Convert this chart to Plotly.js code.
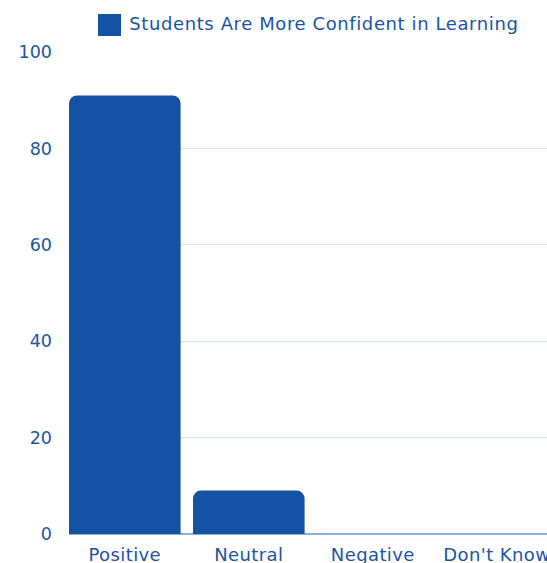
<!DOCTYPE html>
<html>
<head>
<meta charset="utf-8">
<script src="https://cdn.plot.ly/plotly-3.0.1.min.js"></script>
<style>
html,body{margin:0;padding:0;background:#fff;overflow:hidden}
#chart{width:547px;height:563px}
#chart .annotation-text{letter-spacing:0.6px}
#chart .xtick text{letter-spacing:0.4px}
</style>
</head>
<body>
<div id="chart"></div>
<script>
const categories = ["Positive", "Neutral", "Negative", "Don't Know"];
const values = [91, 9, 0, 0];
const seriesName = "Students Are More Confident in Learning";
const yTicks = [0, 20, 40, 60, 80, 100];

const blue = '#1453a3';
const textBlue = '#1a55a2';
const fontFam = '"DejaVu Sans", "Noto Sans", sans-serif';

const trace = {
  type: 'bar',
  x: categories,
  y: values,
  name: seriesName,
  marker: {color: blue, cornerradius: 8},
  showlegend: false,
  hoverinfo: 'x+y'
};

const layout = {
  width: 547, height: 563,
  margin: {l: 69, r: 0, t: 52, b: 29},
  paper_bgcolor: '#fff', plot_bgcolor: '#fff',
  bargap: 0.1,
  font: {family: fontFam, color: textBlue},
  xaxis: {
    type: 'category',
    range: [-0.45, 3.405],
    showgrid: false,
    showline: false,
    zeroline: false,
    ticks: '',
    tickfont: {size: 18, color: textBlue, family: fontFam},
    ticklabelstandoff: 8,
    fixedrange: true
  },
  yaxis: {
    range: [0, 100],
    tickvals: yTicks,
    ticktext: yTicks.map(String),
    gridcolor: '#dbe5f0',
    gridwidth: 1,
    zeroline: true,
    zerolinecolor: '#8eafda',
    zerolinewidth: 1.5,
    showline: false,
    ticks: '',
    ticklabelstandoff: 16,
    tickfont: {size: 17.5, color: textBlue, family: fontFam},
    fixedrange: true
  },
  showlegend: false,
  shapes: [{
    type: 'rect', xref: 'paper', yref: 'paper',
    x0: (98 - 69) / 478, x1: (121 - 69) / 478,
    y0: (534 - 36) / 482, y1: (534 - 14) / 482,
    fillcolor: blue, line: {width: 0}
  }],
  annotations: [{
    xref: 'paper', yref: 'paper',
    x: (139 - 69) / 478, y: (534 - 24) / 482,
    xanchor: 'left', yanchor: 'middle',
    text: seriesName, showarrow: false,
    font: {size: 18, color: textBlue, family: fontFam}
  }]
};

Plotly.newPlot('chart', [trace], layout, {displayModeBar: false, staticPlot: true});
</script>
</body>
</html>
